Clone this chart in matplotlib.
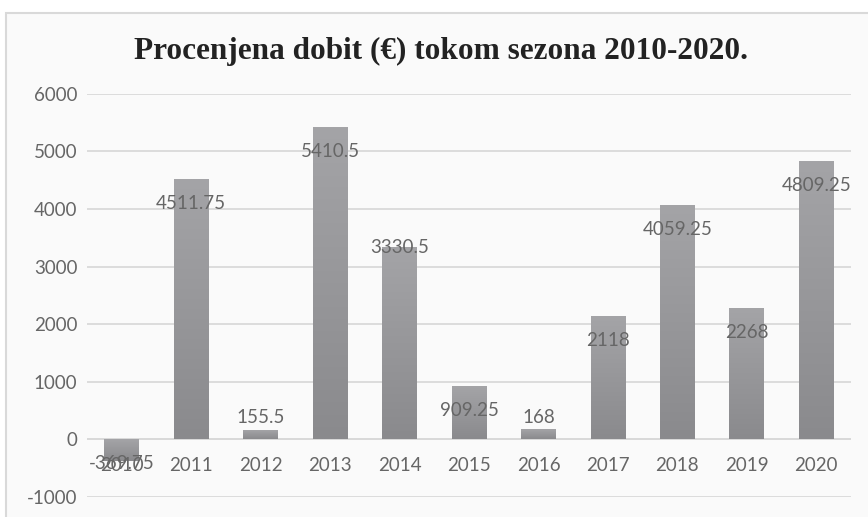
import numpy as np
import matplotlib
matplotlib.use("Agg")
from matplotlib import pyplot as plt
from matplotlib.patches import Rectangle

seasons = ["2010", "2011", "2012", "2013", "2014", "2015",
           "2016", "2017", "2018", "2019", "2020"]
profit = [-369.75, 4511.75, 155.5, 5410.5, 3330.5, 909.25,
          168, 2118, 4059.25, 2268, 4809.25]
labels = ["-369.75", "4511.75", "155.5", "5410.5", "3330.5", "909.25",
          "168", "2118", "4059.25", "2268", "4809.25"]
# where the labels sit relative to the bar end (points, + is down)
label_shift = [2, 17, -9, 17, 0, 17, -9, 17, 17, 17, 17]

text_col = "#666666"
plt.rcParams["font.family"] = ["Lato", "DejaVu Sans"]
plt.rcParams["axes.unicode_minus"] = False

fig = plt.figure(figsize=(8.68, 5.17), dpi=100)
fig.patch.set_facecolor("white")
fig.patches.append(Rectangle((6 / 868, -0.01), 1.0, 1 - 13 / 517 + 0.01,
                             transform=fig.transFigure, facecolor="#fafafa",
                             edgecolor="#d9d9d9", linewidth=1.5, zorder=-10))

ax = fig.add_axes([87 / 868, 1 - 497 / 517, (851 - 87) / 868, (497 - 93.7) / 517])
ax.set_facecolor("none")

x = np.arange(len(seasons))
bars = ax.bar(x, profit, width=0.5, color="none", zorder=2)

grad = np.linspace(0, 1, 256).reshape(-1, 1)
cmap = matplotlib.colors.LinearSegmentedColormap.from_list("g", ["#a4a4a7", "#8a8a8d"])
for b in bars:
    x0, y0 = b.get_x(), b.get_y()
    w, h = b.get_width(), b.get_height()
    lo, hi = min(y0, y0 + h), max(y0, y0 + h)
    ax.imshow(grad, cmap=cmap, extent=(x0, x0 + w, lo, hi), origin="upper",
              aspect="auto", zorder=2)

ax.set_xlim(-0.5, len(seasons) - 0.5)
ax.set_ylim(-1000, 6000)
ax.set_yticks(range(-1000, 6001, 1000))
ax.yaxis.grid(True, color="#d9d9d9", linewidth=1.3, zorder=0)
ax.set_axisbelow(True)
for s in ax.spines.values():
    s.set_visible(False)
ax.axhline(0, color="#d9d9d9", linewidth=1.3, zorder=1)

ax.tick_params(axis="y", length=0, pad=7, labelsize=13.5, labelcolor=text_col)
ax.set_xticks([])
for i, s in enumerate(seasons):
    ax.annotate(s, (i, 0), xytext=(0, -19), textcoords="offset points",
                ha="center", va="center", fontsize=13.5, color=text_col)

for i, (v, lab) in enumerate(zip(profit, labels)):
    ax.annotate(lab, (i, v), xytext=(0, -label_shift[i]), textcoords="offset points",
                ha="center", va="center", fontsize=13.5, color=text_col, zorder=3)

fig.text(441 / 868, 1 - 51 / 517, "Procenjena dobit (€) tokom sezona 2010-2020.",
         ha="center", va="center", fontsize=22.5, fontweight="bold",
         family="Liberation Serif", color="#222222")

fig.savefig("out.png", dpi=100)
